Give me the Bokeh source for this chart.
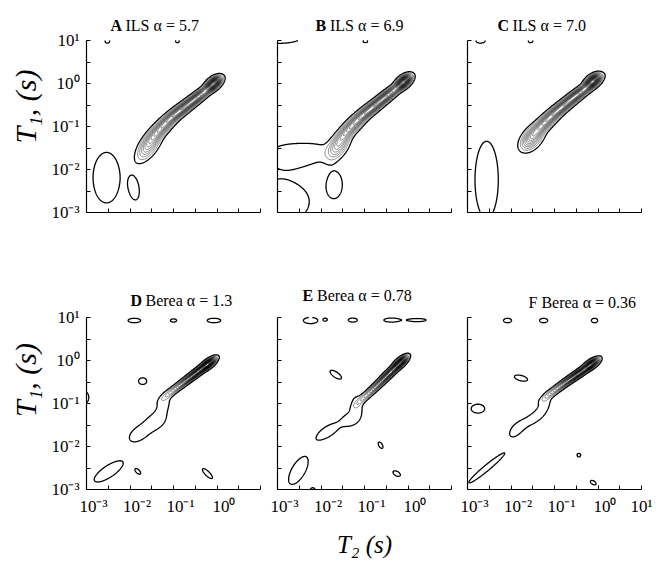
import numpy as np
from bokeh.plotting import figure
from bokeh.models import Range1d, FixedTicker
from bokeh.core.properties import value
from bokeh.layouts import column, row
from bokeh.embed import file_html
from bokeh.resources import INLINE

FONT = "Liberation Serif"

# ---------------- axes (log10 units) ----------------
T2_LIMITS = (-3.16, 0.84)
T1_LIMITS = (-3.0, 1.0)
T2_DECADES = [-3, -2, -1, 0]
T2_DECADE_LABELS = ["10⁻³", "10⁻²", "10⁻¹", "10⁰"]
T2_EXTRA_DECADE_LABEL = "10¹"
T1_DECADES = [-3, -2, -1, 0, 1]
T1_DECADE_LABELS = ["10⁻³", "10⁻²", "10⁻¹", "10⁰", "10¹"]

CONTOUR_LEVELS = [0.05, 0.10, 0.15, 0.20, 0.25, 0.30, 0.35, 0.40, 0.45, 0.50,
                  0.55, 0.60, 0.65, 0.70, 0.75, 0.80, 0.85, 0.90, 0.95, 1.00,
                  1.05, 1.10, 1.15, 1.20, 1.25, 1.30]

PANEL_LETTERS = ["A", "B", "C", "D", "E", ""]
PANEL_TITLES = ["ILS α = 5.7", "ILS α = 6.9", "ILS α = 7.0",
                "Berea α = 1.3", "Berea  α = 0.78", "F Berea α = 0.36"]

# ---------------- peaks (log10 T2, log10 T1) ----------------
A_T2 = [-1.72, -1.42, -1.00, -0.57, -0.24, -2.70, -2.06, -2.68, -1.07]
A_T1 = [-1.45, -1.02, -0.63, -0.29, 0.00, -2.19, -2.44, 0.98, 0.98]
A_W2 = [0.25, 0.30, 0.30, 0.28, 0.12, 0.30, 0.10, 0.05, 0.04]
A_W1 = [0.11, 0.085, 0.07, 0.065, 0.07, 0.57, 0.24, 0.04, 0.03]
A_TILT = [55, 45, 38, 38, 40, 0, 8, 0, 0]
A_AMP = [0.30, 0.50, 0.58, 0.62, 1.00, 0.085, 0.085, 0.085, 0.085]

B_T2 = [-1.75, -1.45, -1.02, -0.60, -0.26, -2.95, -2.30, -3.10, -1.14, -3.10, -1.84]
B_T1 = [-1.45, -1.00, -0.60, -0.25, 0.04, -1.66, -1.60, 1.10, 0.98, -2.75, -2.34]
B_W2 = [0.22, 0.30, 0.30, 0.28, 0.12, 0.45, 0.40, 0.50, 0.05, 0.65, 0.15]
B_W1 = [0.11, 0.085, 0.07, 0.065, 0.07, 0.25, 0.19, 0.16, 0.03, 0.47, 0.26]
B_TILT = [55, 45, 38, 38, 40, 0, 5, 0, 0, 0, 0]
B_AMP = [0.28, 0.50, 0.58, 0.62, 1.00, 0.065, 0.06, 0.085, 0.085, 0.085, 0.085]

C_T2 = [-1.68, -1.38, -0.98, -0.57, -0.28, -2.72, -2.86, -1.71]
C_T1 = [-1.28, -0.92, -0.55, -0.21, 0.06, -2.24, 0.99, 0.99]
C_W2 = [0.20, 0.28, 0.30, 0.28, 0.12, 0.26, 0.10, 0.05]
C_W1 = [0.12, 0.085, 0.07, 0.065, 0.07, 0.87, 0.05, 0.04]
C_TILT = [50, 43, 38, 36, 38, 0, 0, 0]
C_AMP = [0.35, 0.52, 0.58, 0.62, 1.00, 0.085, 0.085, 0.085]

D_T2 = [-1.12, -0.82, -0.57, -0.36, -1.95, -1.55, -1.38, -2.06, -1.16, -0.23, -1.87, -3.20, -2.65, -1.98, -0.38]
D_T1 = [-0.66, -0.43, -0.24, -0.08, -1.70, -1.40, -1.00, 0.93, 0.93, 0.93, -0.48, -0.86, -2.58, -2.58, -2.63]
D_W2 = [0.22, 0.22, 0.20, 0.12, 0.28, 0.20, 0.22, 0.14, 0.07, 0.15, 0.09, 0.09, 0.38, 0.08, 0.15]
D_W1 = [0.05, 0.045, 0.045, 0.05, 0.16, 0.15, 0.13, 0.05, 0.035, 0.05, 0.075, 0.13, 0.13, 0.04, 0.05]
D_TILT = [38, 38, 38, 38, 35, 30, 70, 0, 0, 0, 0, 0, 34, -45, -45]
D_AMP = [0.22, 0.45, 0.75, 1.00, 0.075, 0.07, 0.07, 0.085, 0.085, 0.085, 0.085, 0.085, 0.085, 0.085, 0.085]

E_T2 = [-1.10, -0.80, -0.55, -0.34, -2.00, -1.48, -1.33, -2.40, -2.06, -1.43, -0.54, 0.05, -1.82, -0.79, -0.42, -2.68, -2.35]
E_T1 = [-0.80, -0.52, -0.26, -0.05, -1.65, -1.38, -1.05, 0.93, 0.95, 0.94, 0.94, 0.94, -0.33, -1.97, -2.63, -2.56, -3.00]
E_W2 = [0.22, 0.22, 0.20, 0.12, 0.32, 0.15, 0.12, 0.16, 0.04, 0.10, 0.17, 0.20, 0.15, 0.08, 0.09, 0.35, 0.05]
E_W1 = [0.05, 0.045, 0.045, 0.05, 0.13, 0.13, 0.22, 0.07, 0.03, 0.045, 0.045, 0.035, 0.06, 0.04, 0.05, 0.15, 0.04]
E_TILT = [42, 42, 42, 42, 33, 20, 10, 0, 0, 0, 0, 0, -35, -60, -30, 60, 0]
E_AMP = [0.22, 0.45, 0.75, 1.00, 0.075, 0.07, 0.07, 0.085, 0.085, 0.085, 0.085, 0.085, 0.085, 0.085, 0.085, 0.085, 0.085]

F_T2 = [-1.15, -0.85, -0.57, -0.32, -2.05, -1.65, -1.38, -2.72, -2.24, -1.41, -0.24, -2.92, -1.93, -0.60, -0.27]
F_T1 = [-0.70, -0.47, -0.28, -0.09, -1.62, -1.35, -1.00, -2.50, 0.93, 0.93, 0.93, -1.12, -0.41, -2.20, -2.84]
F_W2 = [0.22, 0.22, 0.20, 0.12, 0.20, 0.25, 0.20, 0.52, 0.09, 0.09, 0.07, 0.15, 0.15, 0.04, 0.07]
F_W1 = [0.05, 0.045, 0.045, 0.05, 0.11, 0.11, 0.10, 0.065, 0.05, 0.05, 0.05, 0.10, 0.06, 0.04, 0.04]
F_TILT = [35, 35, 35, 35, 50, 35, 60, 40, 0, 0, 0, 0, -15, 0, -30]
F_AMP = [0.22, 0.45, 0.75, 1.00, 0.072, 0.072, 0.07, 0.085, 0.085, 0.085, 0.085, 0.085, 0.085, 0.085, 0.085]

PANELS = [
    (A_T2, A_T1, A_W2, A_W1, A_TILT, A_AMP),
    (B_T2, B_T1, B_W2, B_W1, B_TILT, B_AMP),
    (C_T2, C_T1, C_W2, C_W1, C_TILT, C_AMP),
    (D_T2, D_T1, D_W2, D_W1, D_TILT, D_AMP),
    (E_T2, E_T1, E_W2, E_W1, E_TILT, E_AMP),
    (F_T2, F_T1, F_W2, F_W1, F_TILT, F_AMP),
]

# ---------------- layout / style ----------------
FIG_W = [268, 191, 199]
BORDER_L = [86, 9, 8]
BORDER_R = [8, 8, 17]
FIG_H = [270, 299]
SPACE_T = [40, 47]          # room above the T1 = 10 s line (title area)
BORDER_B = [58, 80]
PX_X = 43.5                 # pixels per decade, T2
PX_Y = 43.0                 # pixels per decade, T1
TITLE_X = [24, 38, 30, 44, 25, 61]
TITLE_Y = [15, 15, 15, 17, 22, 15]
LETTER_W = [15, 14.5, 15, 15, 14.5, 0]

GX = np.linspace(-3.8, 1.4, 521)
GY = np.linspace(-3.6, 1.0, 461)


def density(t2, t1, w2, w1, tilt, amp):
    X, Y = np.meshgrid(GX, GY)
    Z = np.zeros_like(X)
    for cx, cy, sa, sb, th, a in zip(t2, t1, w2, w1, tilt, amp):
        t = np.radians(th)
        dx, dy = X - cx, Y - cy
        u = dx * np.cos(t) + dy * np.sin(t)
        v = -dx * np.sin(t) + dy * np.cos(t)
        Z += a * np.exp(-0.5 * ((u / sa) ** 2 + (v / sb) ** 2))
    return Z


def make_panel(i):
    c, r = i % 3, i // 3
    y_top = T1_LIMITS[1] + SPACE_T[r] / PX_Y
    p = figure(width=FIG_W[c], height=FIG_H[r],
               x_range=Range1d(*T2_LIMITS), y_range=Range1d(T1_LIMITS[0], y_top),
               output_backend="svg", toolbar_location=None,
               min_border_left=BORDER_L[c], min_border_right=BORDER_R[c],
               min_border_top=0, min_border_bottom=BORDER_B[r])
    p.grid.visible = False
    p.outline_line_color = None
    p.background_fill_color = "white"
    p.border_fill_color = "white"

    Z = density(*PANELS[i])
    n = len(CONTOUR_LEVELS)
    p.contour(GX, GY, Z, CONTOUR_LEVELS, line_color="black",
              line_width=[1.3] + [0.5] * (n - 1),
              line_alpha=[1.0] + [0.9] * (n - 1))

    xa, ya = p.xaxis[0], p.yaxis[0]
    ya.bounds = T1_LIMITS
    minor_x = [T2_LIMITS[0] + 0.5 * k for k in range(9)]
    minor_y = [T1_LIMITS[0] + 0.5 * k for k in range(9)]
    if r == 1:
        ticks = list(T2_DECADES)
        labels = list(T2_DECADE_LABELS)
        if c == 2:
            ticks.append(0.839)
            labels.append(T2_EXTRA_DECADE_LABEL)
        xa.ticker = FixedTicker(ticks=ticks, minor_ticks=minor_x)
        xa.major_label_overrides = dict(zip(ticks, labels))
    else:
        xa.ticker = FixedTicker(ticks=[], minor_ticks=minor_x)
    if c == 0:
        ya.ticker = FixedTicker(ticks=T1_DECADES, minor_ticks=minor_y)
        ya.major_label_overrides = dict(zip(T1_DECADES, T1_DECADE_LABELS))
        ya.axis_label = "T₁, (s)"
        ya.axis_label_text_font = FONT
        ya.axis_label_text_font_size = "30px"
        ya.axis_label_text_font_style = "italic"
        ya.axis_label_text_color = "black"
        ya.axis_label_standoff = 6
    else:
        ya.ticker = FixedTicker(ticks=[], minor_ticks=minor_y)
    if i == 4:
        xa.axis_label = "T₂ (s)"
        xa.axis_label_text_font = FONT
        xa.axis_label_text_font_size = "25px"
        xa.axis_label_text_font_style = "italic"
        xa.axis_label_text_color = "black"
        xa.axis_label_standoff = 12

    for ax in (xa, ya):
        ax.axis_line_color = "black"
        ax.axis_line_width = 1.2
        ax.major_tick_in = 0
        ax.major_tick_out = 0
        ax.minor_tick_in = 4
        ax.minor_tick_out = 0
        ax.minor_tick_line_color = "black"
        ax.major_label_text_font = FONT
        ax.major_label_text_font_size = "17px"
        ax.major_label_text_color = "black"
        ax.major_label_standoff = 7

    # panel title inside the extended frame, above T1 = 10 s
    tx = T2_LIMITS[0] + TITLE_X[i] / PX_X
    ty = T1_LIMITS[1] + TITLE_Y[i] / PX_Y
    letter = PANEL_LETTERS[i]
    if letter:
        p.text(x=[tx], y=[ty], text=[letter], text_font=value(FONT), text_font_style="bold",
               text_font_size="16px", text_baseline="alphabetic", text_align="left",
               text_color="black")
    p.text(x=[tx + LETTER_W[i] / PX_X], y=[ty], text=[PANEL_TITLES[i]], text_font=value(FONT),
           text_font_size="16px", text_baseline="alphabetic", text_align="left",
           text_color="black")
    return p


figs = [make_panel(i) for i in range(6)]
layout = column(row(*figs[:3]), row(*figs[3:]))
open("out.html", "w").write(file_html(layout, INLINE))
